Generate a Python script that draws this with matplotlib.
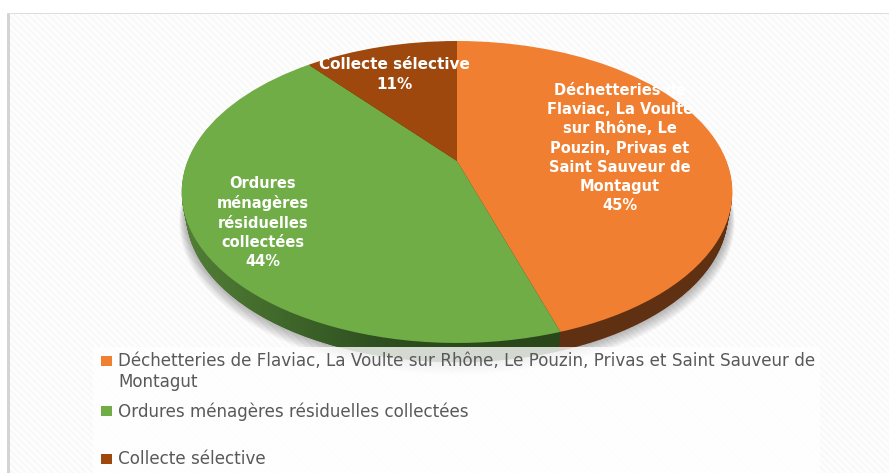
import numpy as np
import matplotlib
matplotlib.use("Agg")
import matplotlib.pyplot as plt
from matplotlib.patches import Rectangle
from matplotlib.path import Path
from matplotlib.transforms import Transform
from matplotlib.colors import LinearSegmentedColormap

# data
categories = ["Déchetteries de Flaviac, La Voulte sur Rhône, Le Pouzin, Privas et Saint Sauveur de Montagut",
              "Ordures ménagères résiduelles collectées",
              "Collecte sélective"]
values = [45, 44, 11]
slice_labels = ["Déchetteries de\nFlaviac, La Voulte\nsur Rhône, Le\nPouzin, Privas et\nSaint Sauveur de\nMontagut\n45%",
                "Ordures\nménagères\nrésiduelles\ncollectées\n44%",
                "Collecte sélective\n11%"]
legend_labels = ["Déchetteries de Flaviac, La Voulte sur Rhône, Le Pouzin, Privas et Saint Sauveur de\nMontagut",
                 "Ordures ménagères résiduelles collectées",
                 "Collecte sélective"]
top_colors = ["#F07F31", "#70AD47", "#9E480E"]
side_colors = ["#5F3112", "#43682B", "#5F2B08"]

plt.rcParams["hatch.linewidth"] = 1.0
plt.rcParams["font.family"] = "DejaVu Sans"


class Tilt(Transform):
    """Projects the flat unit pie onto the tilted disc seen in perspective."""
    input_dims = output_dims = 2
    is_separable = False
    has_inverse = False

    def __init__(self, dy=0.0, grow=0.0):
        super().__init__()
        self.dy, self.grow = dy, grow

    def transform_non_affine(self, xy):
        xy = np.asarray(xy, float)
        w = 1 + 0.205 * xy[:, 1]
        return np.column_stack([457 + (269.5 + self.grow) * xy[:, 0] / w,
                                161 + self.dy - (144.6 + self.grow * 0.5) * xy[:, 1] / w])


fig = plt.figure(figsize=(8.89, 4.73), dpi=100)
ax = fig.add_axes([0, 0, 1, 1])


def pie(vals, colors, dy=0.0, grow=0.0, z=2, alpha=None):
    wedges = ax.pie(vals, colors=colors, startangle=90, counterclock=False)[0]
    tr = Tilt(dy, grow)
    for wd in wedges:
        wd.set_transform(tr + ax.transData)
        wd.set_zorder(z)
        wd.set_linewidth(0)
        if alpha is not None:
            wd.set_alpha(alpha)
    return wedges, tr


# panel
ax.add_patch(Rectangle((9, 14), 880, 459, facecolor="#fdfdfd", edgecolor="#f7f7f7",
                       hatch="\\\\\\\\\\", lw=0, zorder=0))
ax.add_patch(Rectangle((7, 13), 3, 460, color="#d4d4d4", lw=0, zorder=1))
ax.add_patch(Rectangle((7, 13), 882, 1.2, color="#dedede", lw=0, zorder=1))

# soft shadow
total = sum(values)
for i in range(1, 10):
    pie([total], ["#000000"], dy=20 + i * 1.1, grow=-4 + i * 0.7, z=2, alpha=0.035)

# side wall, narrowing toward its base
depth = 22
green_paths = []
for d in range(1, depth + 1):
    wedges, tr = pie(values, side_colors, dy=d, grow=-d * 0.2, z=3)
    wd = wedges[1]
    green_paths.append(tr.transform_path(wd.get_patch_transform().transform_path(wd.get_path())))

# gradient on the green side wall
grad = LinearSegmentedColormap.from_list("g", ["#537F37", "#41692B", "#2F5020", "#2A471B", "#2A471B"])
im = ax.imshow(np.linspace(0, 1, 256)[None, :], cmap=grad, extent=(180, 570, 380, 100),
               aspect="auto", zorder=4)
im.set_clip_path(Path.make_compound_path(*green_paths), ax.transData)

# translucent legend panel: the wall and its shadow show through it
ax.add_patch(Rectangle((93, 347), 727, 126, facecolor="white", alpha=0.8, lw=0, zorder=5))

# top face
pie(values, top_colors, z=6)

# slice labels
label_xy = [(620, 148), (263, 222.5), (394, 74.5)]
label_sizes = [10.5, 10.5, 11]
label_spacing = [1.35, 1.35, 1.4]
for txt, (x, y), fs, ls in zip(slice_labels, label_xy, label_sizes, label_spacing):
    ax.text(x, y, txt, color="white", ha="center", va="center", fontsize=fs,
            fontweight="bold", linespacing=ls, zorder=7)

# legend
legend_y = [361, 411, 459]
legend_top = [352, 402, 450]
for txt, col, y, top in zip(legend_labels, top_colors, legend_y, legend_top):
    ax.add_patch(Rectangle((101, y - 5), 11, 10, color=col, lw=0, zorder=7))
    ax.text(118, top, txt, color="#595959", fontsize=12.1, va="top", linespacing=1.19, zorder=7)

ax.set_aspect("auto")
ax.set_xlim(0, 889)
ax.set_ylim(473, 0)
ax.axis("off")
fig.savefig("out.png", dpi=100, facecolor="white")
